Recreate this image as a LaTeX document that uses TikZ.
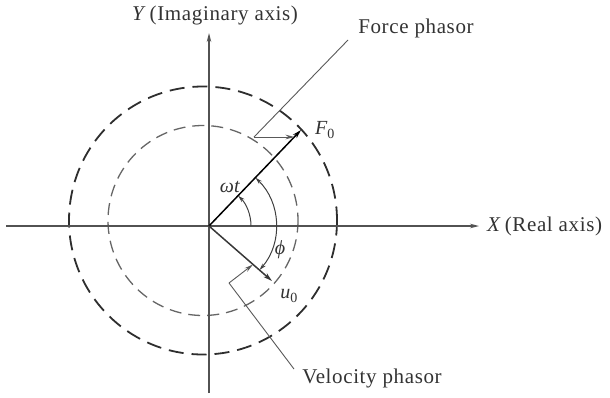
\documentclass[tikz,border=0pt]{standalone}
\usepackage{fontspec}
\setmainfont{Liberation Serif}[LetterSpace=3]
\newfontfamily\mfont{Liberation Serif}
\usetikzlibrary{arrows.meta}
\begin{document}
\begin{tikzpicture}[x=1pt,y=-1pt,
  axisline/.style={draw=black!68,line width=1.2pt},
  outerc/.style={draw=black!82,line width=1.8pt,dash pattern=on 15pt off 8pt},
  innerc/.style={draw=black!60,line width=1.3pt,dash pattern=on 12pt off 7pt},
  phasor/.style={line width=1.5pt,-{Stealth[length=9pt,width=5pt]}},
  leader/.style={draw=black!65,line width=0.9pt},
  tip/.style={-{Stealth[length=9pt,width=4.5pt]}},
  lbl/.style={text=black!80,font=\fontsize{21}{25}\selectfont,inner sep=0pt},
  mlbl/.style={text=black!80,font=\mfont\fontsize{20}{24}\selectfont,inner sep=0pt},
  arcline/.style={draw=black!75,line width=1pt}]
\useasboundingbox (0,0) rectangle (610,397);
\coordinate (O) at (209,226);
\coordinate (C) at (203,220.5);
% circles
\draw[outerc] (C) circle[radius=134];
\draw[innerc] (C) circle[radius=95];
% axes
\coordinate (XL) at (6,226);
\coordinate (XR) at (479,226);
\coordinate (YB) at (209,393);
\coordinate (YT) at (209,33);
\draw[axisline,tip] (XL) -- (XR);
\draw[axisline,tip] (YB) -- (YT);
\node[lbl,anchor=west] (xlab) at (487,226) {\textit{X}\,(Real axis)};
\node[lbl] (ylab) at (215,15) {\textit{Y}\,(Imaginary axis)};
% phasors
\coordinate (F) at (301,130);
\coordinate (U) at (272,281);
\draw[phasor,draw=black,fill=black] (O) -- (F);
\draw[phasor,draw=black!78,fill=black!78] (O) -- (U);
\node[mlbl] (flab) at (325,130) {\textit{F}\textsubscript{0}};
\node[mlbl] (ulab) at (289,296) {\textit{u}\textsubscript{0}};
% angle arcs
\draw[arcline,-{Stealth[length=7pt,width=4pt]}] ([shift={(0:42)}]O) arc[start angle=0,end angle=-46,radius=42];
\draw[arcline,{Stealth[length=7pt,width=4pt]}-{Stealth[length=7pt,width=4pt]}] ([shift={(-46:67)}]O) arc[start angle=-46,end angle=41,radius=67];
\node[mlbl] (wt) at (230,187) {\textit{ωt}};
\node[mlbl] (phi) at (280,250) {\textit{ϕ}};
% force phasor leader
\coordinate (FL) at (254,137);
\coordinate (FA) at (294.5,137);
\coordinate (FE) at (348,40);
\node[lbl] (flead) at (416,28) {Force phasor};
\draw[leader] (FE) -- (FL);
\draw[leader,tip] (FL) -- (FA);
% velocity phasor leader
\coordinate (VL) at (229,283);
\coordinate (VA) at (253,264.5);
\coordinate (VE) at (294,369);
\node[lbl] (vlead) at (372,378) {Velocity phasor};
\draw[leader] (VE) -- (VL);
\draw[leader,tip] (VL) -- (VA);
\end{tikzpicture}
\end{document}
